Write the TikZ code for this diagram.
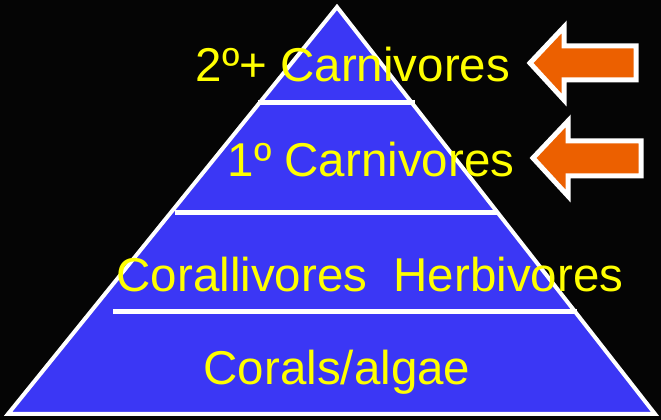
\documentclass[tikz,border=0pt]{standalone}
\usepackage{fontspec}
\setmainfont{Liberation Sans}
\usepackage{xcolor}
\usepackage{tikz}
\usetikzlibrary{positioning}

\definecolor{bgblack}{RGB}{5,5,5}
\definecolor{pyrblue}{RGB}{59,55,245}
\definecolor{arrorange}{RGB}{236,96,0}
\definecolor{lbyellow}{RGB}{255,255,0}

\begin{document}
\begin{tikzpicture}[
  x=1pt, y=1pt,
  level/.style={anchor=base, text=lbyellow, inner sep=0pt,
                font=\fontsize{47.5}{50}\selectfont},
  divider/.style={draw=white, line width=5pt},
  pointer/.style={fill=arrorange, draw=white, line width=5pt, line join=miter}
]
\fill[bgblack] (0,0) rectangle (661,420);
\useasboundingbox (0,0) rectangle (661,420);

% pyramid
\filldraw[fill=pyrblue, draw=white, line width=4pt, line join=miter]
  (337,413) -- (655,6) -- (8,6) -- cycle;
\draw[divider] (258,317) -- (415,317);
\draw[divider] (175,207) -- (497,207);
\draw[divider] (113,108) -- (577,108);

% arrows
\filldraw[pointer] (530,357) -- (564,393) -- (564,374) -- (636,374)
  -- (636,340) -- (564,340) -- (564,320) -- cycle;
\filldraw[pointer] (533,262) -- (568,299) -- (568,279) -- (641,279)
  -- (641,244) -- (568,244) -- (568,224) -- cycle;

% levels
\node[level] (sec)  at (353,338) {2º+ Carnivores};
\node[level] (prim) at (371,243) {1º Carnivores};
\node[level] (herb) at (370,128) {Corallivores\ \ Herbivores};
\node[level] (prod) at (337,35)  {Corals/algae};
\end{tikzpicture}
\end{document}
